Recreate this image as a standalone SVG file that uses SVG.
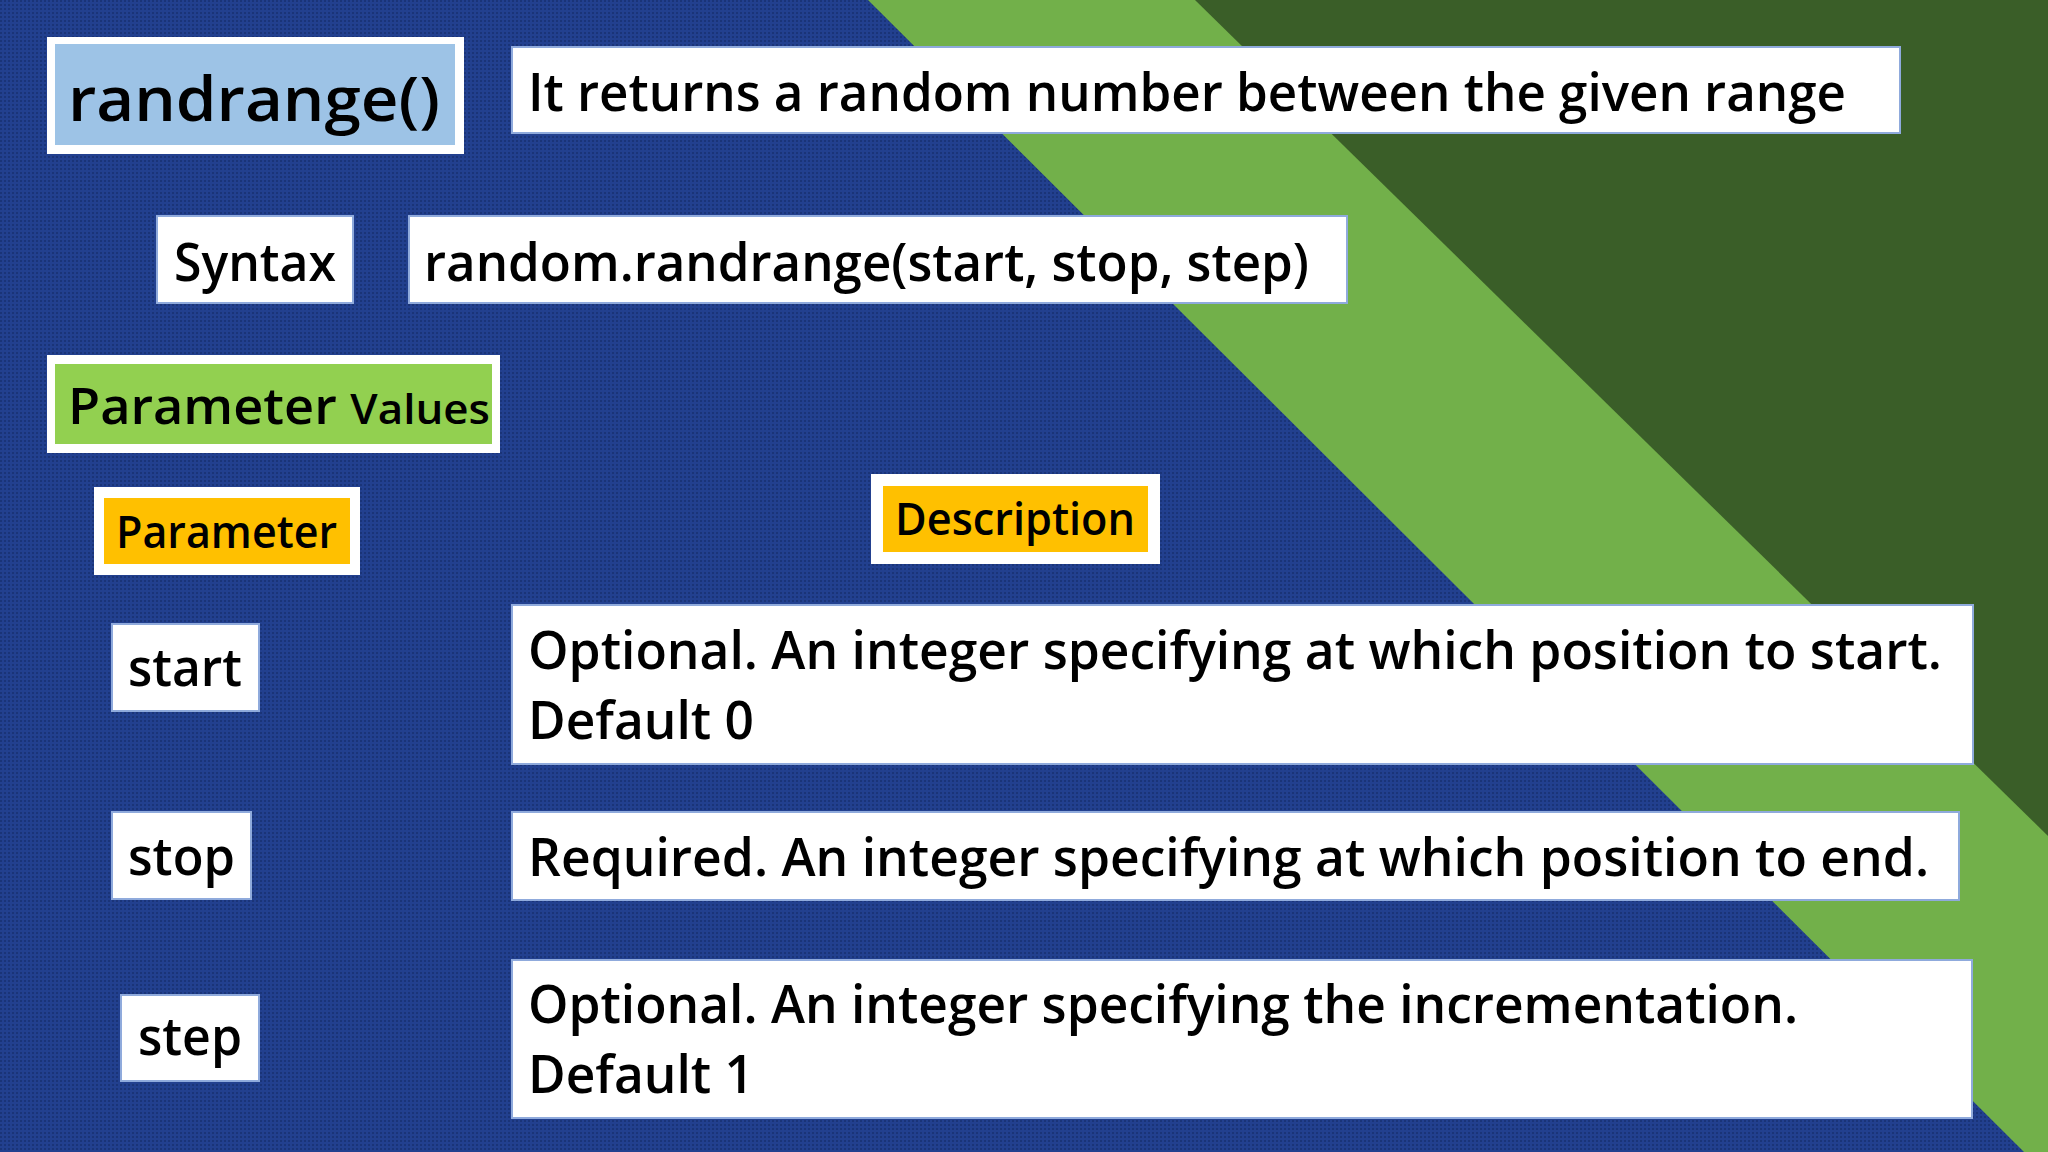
<svg xmlns="http://www.w3.org/2000/svg" width="2048" height="1152" viewBox="0 0 2048 1152">
<defs>
<pattern id="dots" width="4" height="4" patternUnits="userSpaceOnUse"><rect width="4" height="4" fill="#22408f"/><rect width="2" height="2" fill="#1a3478"/></pattern>
<style>
.box{fill:#fff;stroke:#8faadc;stroke-width:2}
.t{font-family:"Open Sans","Liberation Sans",sans-serif;font-weight:600;fill:#000}
.m{font-size:52px}
</style>
</defs>
<rect width="2048" height="1152" fill="url(#dots)"/>
<polygon points="868,0 2048,0 2048,1152 2024,1152" fill="#72b04a"/>
<polygon points="1195,0 2048,0 2048,836" fill="#3a5e28"/>
<g id="title"><rect x="47" y="37" width="417" height="117" fill="#fff"/><rect x="55" y="44" width="400" height="101" fill="#9dc3e6"/><text class="t" x="68" y="121" font-size="62" textLength="372" lengthAdjust="spacingAndGlyphs">randrange()</text></g>
<g id="desc"><rect class="box" x="512" y="47" width="1388" height="86"/><text class="t m" x="528" y="111" textLength="1318" lengthAdjust="spacingAndGlyphs">It returns a random number between the given range</text></g>
<g id="syntax"><rect class="box" x="157" y="216" width="196" height="87"/><text class="t m" x="174" y="281" textLength="162" lengthAdjust="spacingAndGlyphs">Syntax</text></g>
<g id="syntaxval"><rect class="box" x="409" y="216" width="938" height="87"/><text class="t m" x="424" y="281" textLength="885" lengthAdjust="spacingAndGlyphs">random.randrange(start, stop, step)</text></g>
<g id="pv"><rect x="47" y="355" width="453" height="98" fill="#fff"/><rect x="55" y="364" width="437" height="80" fill="#92d050"/><text class="t" x="68" y="424" font-size="50" textLength="422" lengthAdjust="spacingAndGlyphs">Parameter <tspan font-size="42">Values</tspan></text></g>
<g id="ph"><rect x="94" y="487" width="266" height="88" fill="#fff"/><rect x="104" y="498" width="246" height="66" fill="#ffc000"/><text class="t" x="116" y="548" font-size="46" textLength="221" lengthAdjust="spacingAndGlyphs">Parameter</text></g>
<g id="dh"><rect x="871" y="474" width="289" height="90" fill="#fff"/><rect x="883" y="486" width="265" height="66" fill="#ffc000"/><text class="t" x="895" y="535" font-size="46" textLength="240" lengthAdjust="spacingAndGlyphs">Description</text></g>
<g id="start"><rect class="box" x="112" y="624" width="147" height="87"/><text class="t m" x="128" y="686" textLength="114" lengthAdjust="spacingAndGlyphs">start</text></g>
<g id="stop"><rect class="box" x="112" y="812" width="139" height="87"/><text class="t m" x="128" y="875" textLength="107" lengthAdjust="spacingAndGlyphs">stop</text></g>
<g id="step"><rect class="box" x="121" y="995" width="138" height="86"/><text class="t m" x="138" y="1055" textLength="104" lengthAdjust="spacingAndGlyphs">step</text></g>
<g id="d1"><rect class="box" x="512" y="605" width="1461" height="159"/><text class="t m" x="528" y="669" textLength="1414" lengthAdjust="spacingAndGlyphs">Optional. An integer specifying at which position to start.</text><text class="t m" x="528" y="739" textLength="226" lengthAdjust="spacingAndGlyphs">Default 0</text></g>
<g id="d2"><rect class="box" x="512" y="812" width="1447" height="88"/><text class="t m" x="528" y="876" textLength="1401" lengthAdjust="spacingAndGlyphs">Required. An integer specifying at which position to end.</text></g>
<g id="d3"><rect class="box" x="512" y="960" width="1460" height="158"/><text class="t m" x="528" y="1023" textLength="1270" lengthAdjust="spacingAndGlyphs">Optional. An integer specifying the incrementation.</text><text class="t m" x="528" y="1093" textLength="226" lengthAdjust="spacingAndGlyphs">Default 1</text></g>
<g id="connectors"/>
</svg>
